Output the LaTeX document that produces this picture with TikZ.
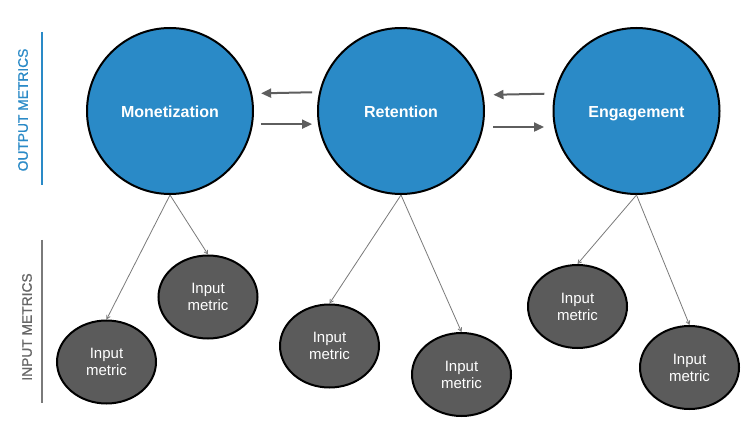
\documentclass[tikz,border=0pt]{standalone}
\usepackage{fontspec}
\setmainfont{Liberation Sans}
\newfontfamily\sidefont[FakeBold=0.9]{Liberation Sans}
\usetikzlibrary{arrows.meta,shapes.geometric}
\definecolor{cblue}{HTML}{2A8AC7}
\definecolor{egray}{HTML}{5B5B5B}
\definecolor{agray}{HTML}{5E5E5E}
\definecolor{lgray}{HTML}{7A7A7A}
\definecolor{tgray}{HTML}{666666}
\begin{document}
\begin{tikzpicture}[x=1pt,y=-1pt,
  outcircle/.style={circle,draw=black,line width=2pt,fill=cblue,minimum size=166pt,inner sep=0pt,
    text=white,text height=14pt,text depth=1.1pt,font=\fontsize{16}{19}\selectfont\bfseries},
  inmetric/.style={ellipse,draw=black,line width=2pt,fill=egray,minimum width=99pt,minimum height=83pt,
    inner sep=0pt,text=white,align=center,font=\fontsize{15}{17}\selectfont},
  harr/.style={draw=agray,line width=2pt,-{Triangle[length=10pt,width=9pt]}},
  thin/.style={draw=lgray,line width=0.8pt,-{Straight Barb[length=3.5pt,width=4pt]}},
  sidetext/.style={rotate=90,font=\sidefont\fontsize{13.8}{16}\selectfont}
]
\useasboundingbox[fill=white] (0,0) rectangle (750,422);

% output circles
\node[outcircle] (m) at (170,111) {Monetization};
\node[outcircle] (r) at (401,111) {Retention};
\node[outcircle] (e) at (636.5,111) {Engagement};

% input metrics
\node[inmetric] (a1) at (106.5,362) {Input\\metric};
\node[inmetric] (a2) at (208,297) {Input\\metric};
\node[inmetric] (b1) at (329.5,346) {Input\\metric};
\node[inmetric] (b2) at (461.5,374.5) {Input\\metric};
\node[inmetric] (c1) at (577.5,306.5) {Input\\metric};
\node[inmetric] (c2) at (689.5,367.5) {Input\\metric};

% horizontal arrows
\draw[harr,shorten <=7pt,shorten >=9pt] (r.167.5) -- (m.12.5);
\draw[harr,shorten <=8pt,shorten >=6pt] (m.-9.7) -- (r.189.7);
\draw[harr,shorten <=10pt,shorten >=10pt] (e.168.9) -- (r.11.1);
\draw[harr,shorten <=10pt,shorten >=10pt] (r.-11.8) -- (e.191.8);

% thin connectors
\draw[thin] (m.south) -- (a1.north);
\draw[thin] (m.south) -- (a2.north);
\draw[thin] (r.south) -- (b1.north);
\draw[thin] (r.south) -- (b2.north);
\draw[thin] (e.south) -- (c1.north);
\draw[thin] (e.south) -- (c2.north);

% side labels
\node[sidetext,text=cblue] (ol) at (23,110) {OUTPUT METRICS};
\coordinate (o1) at (42,32);
\coordinate (o2) at (42,185);
\draw[cblue,line width=2pt] (o1) -- (o2);
\node[sidetext,text=tgray] (il) at (27,327) {INPUT METRICS};
\coordinate (i1) at (42,240);
\coordinate (i2) at (42,403);
\draw[lgray,line width=2pt] (i1) -- (i2);
\end{tikzpicture}
\end{document}
